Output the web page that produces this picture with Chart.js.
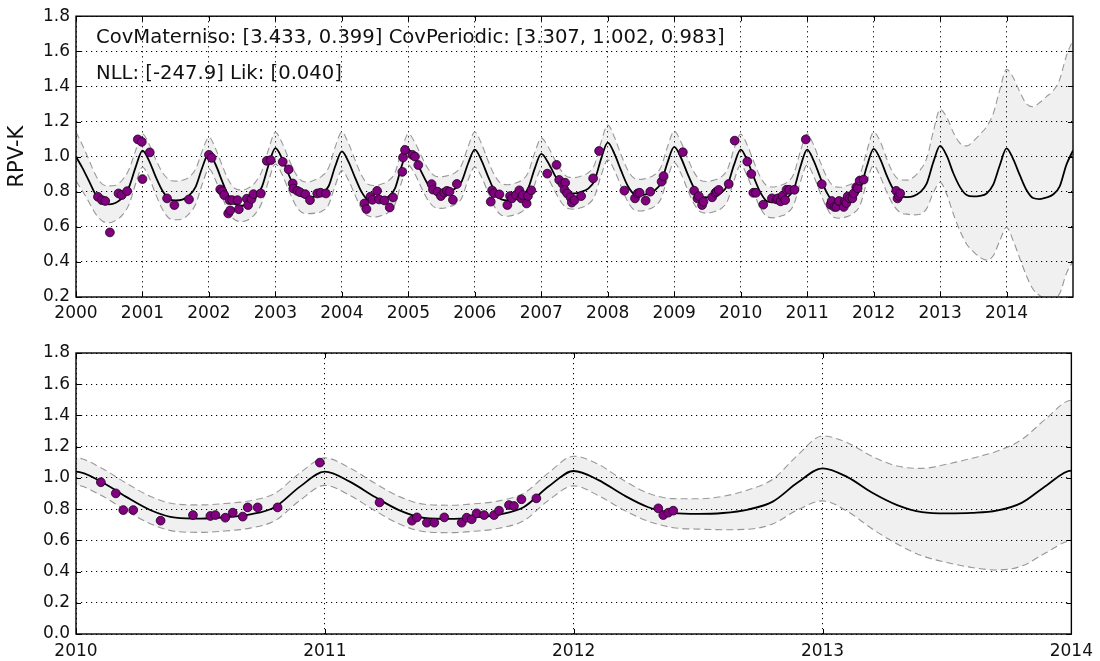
<!DOCTYPE html>
<html>
<head>
<meta charset="utf-8">
<script src="https://cdn.jsdelivr.net/npm/chart.js@4.4.0/dist/chart.umd.min.js"></script>
<style>
  html, body { margin: 0; padding: 0; background: #fff; }
  #wrap { position: relative; width: 1100px; height: 661px; }
  canvas { position: absolute; left: 0; }
  #top-chart { top: 0; }
  #bottom-chart { top: 330px; }
</style>
</head>
<body>
<div id="wrap">
  <canvas id="top-chart" width="1100" height="330"></canvas>
  <canvas id="bottom-chart" width="1100" height="331"></canvas>
</div>
<script>
// GP posterior, one sample every 0.1 year from 2000.0 to 2015.0
const gridStart = 2000;
const gridStepsPerYear = 10;

const meanK = [
  1.000, 0.933, 0.857, 0.781, 0.737, 0.728, 0.737, 0.768, 0.829, 0.943,
  1.034, 0.976, 0.884, 0.805, 0.759, 0.750, 0.755, 0.778, 0.828, 0.938,
  1.020, 0.955, 0.859, 0.772, 0.727, 0.720, 0.732, 0.765, 0.830, 0.955,
  1.048, 0.989, 0.898, 0.816, 0.771, 0.765, 0.773, 0.789, 0.831, 0.945,
  1.030, 0.970, 0.879, 0.796, 0.751, 0.745, 0.754, 0.772, 0.819, 0.946,
  1.040, 0.989, 0.910, 0.839, 0.800, 0.795, 0.802, 0.817, 0.856, 0.962,
  1.040, 0.979, 0.886, 0.802, 0.756, 0.750, 0.758, 0.774, 0.816, 0.930,
  1.015, 0.968, 0.896, 0.830, 0.794, 0.790, 0.799, 0.816, 0.862, 0.987,
  1.080, 1.017, 0.921, 0.834, 0.786, 0.780, 0.788, 0.805, 0.849, 0.967,
  1.055, 0.995, 0.903, 0.820, 0.774, 0.768, 0.776, 0.792, 0.836, 0.953,
  1.040, 0.977, 0.880, 0.793, 0.745, 0.739, 0.748, 0.766, 0.814, 0.944,
  1.040, 0.976, 0.879, 0.792, 0.743, 0.737, 0.746, 0.765, 0.814, 0.946,
  1.044, 0.986, 0.890, 0.812, 0.774, 0.769, 0.775, 0.797, 0.848, 0.970,
  1.061, 1.005, 0.905, 0.826, 0.781, 0.773, 0.776, 0.790, 0.840, 0.952,
  1.047, 0.986, 0.894, 0.810, 0.764, 0.758, 0.767, 0.784, 0.830, 0.953,
  1.035
];

// half width of the confidence band
const spreadK = [
  0.140, 0.130, 0.120, 0.110, 0.105, 0.105, 0.100, 0.100, 0.100, 0.095,
  0.095, 0.095, 0.100, 0.105, 0.110, 0.110, 0.110, 0.105, 0.100, 0.095,
  0.090, 0.090, 0.090, 0.090, 0.090, 0.090, 0.090, 0.090, 0.090, 0.090,
  0.090, 0.090, 0.090, 0.090, 0.090, 0.090, 0.095, 0.100, 0.105, 0.110,
  0.110, 0.105, 0.100, 0.095, 0.090, 0.090, 0.090, 0.090, 0.090, 0.090,
  0.090, 0.090, 0.090, 0.090, 0.090, 0.090, 0.090, 0.090, 0.095, 0.095,
  0.100, 0.095, 0.090, 0.090, 0.090, 0.090, 0.090, 0.090, 0.090, 0.090,
  0.090, 0.090, 0.090, 0.090, 0.090, 0.090, 0.090, 0.090, 0.090, 0.095,
  0.100, 0.095, 0.090, 0.090, 0.090, 0.090, 0.090, 0.090, 0.090, 0.090,
  0.090, 0.090, 0.090, 0.090, 0.090, 0.090, 0.090, 0.090, 0.090, 0.090,
  0.088, 0.088, 0.088, 0.088, 0.088, 0.088, 0.088, 0.088, 0.088, 0.088,
  0.088, 0.088, 0.088, 0.088, 0.088, 0.088, 0.088, 0.088, 0.088, 0.088,
  0.095, 0.100, 0.095, 0.090, 0.093, 0.097, 0.107, 0.126, 0.143, 0.175,
  0.208, 0.220, 0.232, 0.250, 0.280, 0.315, 0.350, 0.380, 0.405, 0.430,
  0.450, 0.465, 0.475, 0.490, 0.520, 0.550, 0.575, 0.590, 0.610, 0.620,
  0.630
];

// observed RPV-K values
const obsYears = [
  2000.33, 2000.39, 2000.44, 2000.51, 2000.64, 2000.69, 2000.77, 2000.93, 2000.99, 2001.00,
  2001.11, 2001.37, 2001.48, 2001.70, 2002.00, 2002.04, 2002.17, 2002.20, 2002.23, 2002.29,
  2002.32, 2002.31, 2002.35, 2002.43, 2002.45, 2002.57, 2002.59, 2002.64, 2002.67, 2002.78,
  2002.87, 2002.93, 2003.11, 2003.20, 2003.26, 2003.27, 2003.33, 2003.37, 2003.45, 2003.52,
  2003.63, 2003.68, 2003.76, 2004.34, 2004.37, 2004.43, 2004.46, 2004.53, 2004.56, 2004.64,
  2004.72, 2004.77, 2004.91, 2004.92, 2004.95, 2005.06, 2005.10, 2005.15, 2005.35, 2005.37,
  2005.44, 2005.49, 2005.54, 2005.58, 2005.62, 2005.67, 2005.73, 2006.24, 2006.26, 2006.29,
  2006.37, 2006.49, 2006.53, 2006.56, 2006.62, 2006.67, 2006.70, 2006.72, 2006.78, 2006.80,
  2006.85, 2007.09, 2007.23, 2007.27, 2007.32, 2007.36, 2007.35, 2007.39, 2007.44, 2007.46,
  2007.50, 2007.60, 2007.78, 2007.87, 2008.25, 2008.41, 2008.45, 2008.48, 2008.57, 2008.64,
  2008.81, 2008.84, 2009.13, 2009.30, 2009.35, 2009.37, 2009.42, 2009.44, 2009.57, 2009.62,
  2009.64, 2009.67, 2009.82, 2009.91, 2010.10, 2010.16, 2010.19, 2010.23, 2010.34, 2010.47,
  2010.54, 2010.56, 2010.60, 2010.63, 2010.67, 2010.69, 2010.73, 2010.81, 2010.98, 2011.22,
  2011.35, 2011.37, 2011.41, 2011.44, 2011.48, 2011.55, 2011.57, 2011.59, 2011.61, 2011.64,
  2011.68, 2011.70, 2011.74, 2011.76, 2011.79, 2011.85, 2012.34, 2012.36, 2012.38, 2012.40
];
const obsValues = [
  0.771, 0.752, 0.747, 0.568, 0.790, 0.781, 0.803, 1.098, 1.084, 0.872,
  1.024, 0.762, 0.724, 0.756, 1.010, 0.993, 0.813, 0.802, 0.781, 0.676,
  0.693, 0.752, 0.752, 0.752, 0.700, 0.760, 0.724, 0.758, 0.786, 0.790,
  0.976, 0.980, 0.970, 0.927, 0.847, 0.818, 0.805, 0.797, 0.786, 0.752,
  0.790, 0.794, 0.790, 0.733, 0.701, 0.772, 0.754, 0.805, 0.756, 0.750,
  0.710, 0.767, 0.913, 0.995, 1.038, 1.010, 1.000, 0.952, 0.843, 0.812,
  0.800, 0.775, 0.795, 0.805, 0.800, 0.754, 0.844, 0.743, 0.807, 0.792,
  0.785, 0.724, 0.775, 0.762, 0.781, 0.808, 0.762, 0.781, 0.733, 0.776,
  0.808, 0.903, 0.953, 0.867, 0.845, 0.851, 0.810, 0.790, 0.768, 0.738,
  0.752, 0.775, 0.876, 1.032, 0.806, 0.762, 0.790, 0.794, 0.749, 0.800,
  0.857, 0.889, 1.025, 0.806, 0.762, 0.775, 0.724, 0.743, 0.768, 0.794,
  0.800, 0.810, 0.844, 1.091, 0.972, 0.901, 0.794, 0.794, 0.726, 0.762,
  0.756, 0.762, 0.745, 0.777, 0.752, 0.811, 0.811, 0.811, 1.098, 0.843,
  0.726, 0.747, 0.713, 0.713, 0.747, 0.713, 0.745, 0.735, 0.773, 0.762,
  0.762, 0.790, 0.826, 0.820, 0.863, 0.869, 0.805, 0.762, 0.777, 0.790
];

const topYearTicks = [2000, 2001, 2002, 2003, 2004, 2005, 2006, 2007, 2008, 2009, 2010, 2011, 2012, 2013, 2014];
const topValueTicks = [0.2, 0.4, 0.6, 0.8, 1.0, 1.2, 1.4, 1.6, 1.8];
const bottomYearTicks = [2010, 2011, 2012, 2013, 2014];
const bottomValueTicks = [0.0, 0.2, 0.4, 0.6, 0.8, 1.0, 1.2, 1.4, 1.6, 1.8];

const annotationLines = [
  'CovMaterniso: [3.433, 0.399] CovPeriodic: [3.307, 1.002, 0.983]',
  'NLL: [-247.9] Lik: [0.040]'
];

Chart.defaults.font.family = "'DejaVu Sans', sans-serif";
Chart.defaults.color = '#111';

function gridYear(i) {
  return (gridStart * gridStepsPerYear + i) / gridStepsPerYear;
}

function curve(sign) {
  return meanK.map((m, i) => ({ x: gridYear(i), y: m + sign * spreadK[i] }));
}

// box round the plot + small inward ticks like matplotlib
const framePlugin = {
  id: 'frame',
  afterDatasetsDraw(chart) {
    const { ctx, chartArea: a, scales } = chart;
    ctx.save();
    ctx.strokeStyle = '#000';
    ctx.lineWidth = 1;
    scales.y.ticks.forEach(t => {
      const py = Math.round(scales.y.getPixelForValue(t.value)) + 0.5;
      ctx.beginPath();
      ctx.moveTo(a.right, py); ctx.lineTo(a.right - 5, py);
      ctx.moveTo(a.left, py); ctx.lineTo(a.left + 5, py);
      ctx.stroke();
    });
    scales.x.ticks.forEach(t => {
      const px = Math.round(scales.x.getPixelForValue(t.value)) + 0.5;
      ctx.beginPath();
      ctx.moveTo(px, a.top); ctx.lineTo(px, a.top + 5);
      ctx.moveTo(px, a.bottom); ctx.lineTo(px, a.bottom - 5);
      ctx.stroke();
    });
    ctx.lineWidth = 1.4;
    ctx.strokeRect(a.left, a.top, a.right - a.left, a.bottom - a.top);
    ctx.restore();
  }
};

const notePlugin = {
  id: 'notes',
  afterDraw(chart) {
    const ctx = chart.ctx;
    ctx.save();
    ctx.font = "19.6px 'DejaVu Sans', sans-serif";
    ctx.fillStyle = '#111';
    ctx.textBaseline = 'alphabetic';
    ctx.fillText(annotationLines[0], 96, 43);
    ctx.fillText(annotationLines[1], 96, 79);
    ctx.restore();
  }
};

function makePanel(canvasId, cfg) {
  const ctx = document.getElementById(canvasId).getContext('2d');
  const points = obsYears.map((x, i) => ({ x, y: obsValues[i] }));
  const lineBase = {
    pointRadius: 0,
    cubicInterpolationMode: 'monotone',
    parsing: false
  };

  return new Chart(ctx, {
    type: 'line',
    data: {
      datasets: [
        {
          type: 'scatter',
          data: points,
          showLine: false,
          pointRadius: 4.4,
          pointBackgroundColor: '#800080',
          pointBorderColor: '#1a001a',
          pointBorderWidth: 0.8
        },
        Object.assign({}, lineBase, {
          data: curve(0),
          borderColor: '#000',
          borderWidth: 1.8,
          fill: false
        }),
        Object.assign({}, lineBase, {
          data: curve(1),
          borderColor: '#9a9a9a',
          borderWidth: 1.1,
          borderDash: [7, 4],
          backgroundColor: 'rgba(0,0,0,0.06)',
          fill: '+1'
        }),
        Object.assign({}, lineBase, {
          data: curve(-1),
          borderColor: '#9a9a9a',
          borderWidth: 1.1,
          borderDash: [7, 4],
          fill: false
        })
      ]
    },
    options: {
      responsive: false,
      animation: false,
      events: [],
      layout: { padding: { left: 0, right: 27, top: cfg.padTop, bottom: 0 } },
      plugins: {
        legend: { display: false },
        tooltip: { enabled: false }
      },
      scales: {
        x: {
          type: 'linear',
          min: cfg.xMin,
          max: cfg.xMax,
          afterBuildTicks: axis => { axis.ticks = cfg.xTicks.map(v => ({ value: v })); },
          afterFit: axis => { axis.height = cfg.xAxisHeight; },
          grid: { color: '#000', lineWidth: 1, drawTicks: false },
          border: { display: false, dash: [1.2, 3.8] },
          ticks: {
            autoSkip: false,
            maxRotation: 0,
            padding: cfg.xPad,
            font: { size: 17 },
            callback: v => String(v)
          }
        },
        y: {
          min: cfg.yMin,
          max: 1.8,
          afterBuildTicks: axis => { axis.ticks = cfg.yTicks.map(v => ({ value: v })); },
          afterFit: axis => { axis.width = 76; },
          grid: { color: '#000', lineWidth: 1, drawTicks: false },
          border: { display: false, dash: [1.2, 3.8] },
          title: {
            display: !!cfg.yTitle,
            text: cfg.yTitle || '',
            font: { size: 21 },
            padding: { top: 5, bottom: 0 }
          },
          ticks: {
            padding: 6,
            font: { size: 17 },
            callback: v => v.toFixed(1)
          }
        }
      }
    },
    plugins: cfg.notes ? [framePlugin, notePlugin] : [framePlugin]
  });
}

makePanel('top-chart', {
  xMin: 2000, xMax: 2015, xTicks: topYearTicks,
  yMin: 0.2, yTicks: topValueTicks,
  padTop: 16, xAxisHeight: 33, xPad: 6,
  yTitle: 'RPV-K', notes: true
});

makePanel('bottom-chart', {
  xMin: 2010, xMax: 2014, xTicks: bottomYearTicks,
  yMin: 0.0, yTicks: bottomValueTicks,
  padTop: 23, xAxisHeight: 27, xPad: 7
});
</script>
</body>
</html>
